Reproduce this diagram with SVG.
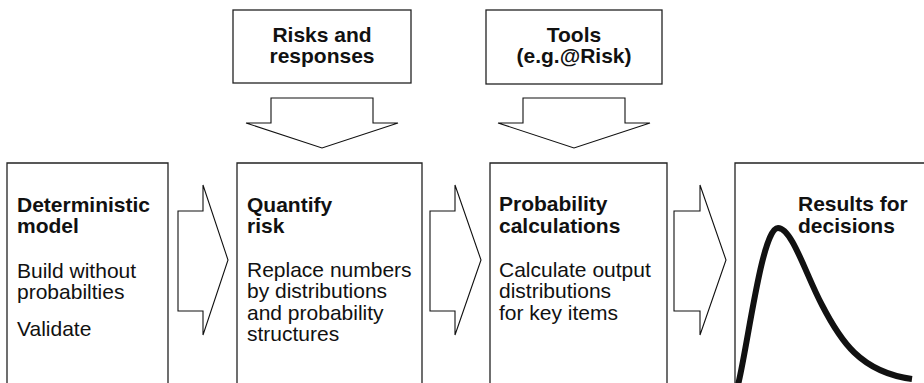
<svg xmlns="http://www.w3.org/2000/svg" width="924" height="383" viewBox="0 0 924 383">
<style>
.box{fill:#fff;stroke:#222;stroke-width:1.3}
.arr{fill:#fff;stroke:#111;stroke-width:1.1;stroke-linejoin:miter}
text{font-family:"Liberation Sans",Arial,sans-serif;font-size:21px;fill:#111}
.b{font-weight:bold}
.c{text-anchor:middle}
.curve{fill:none;stroke:#111;stroke-width:6;stroke-linecap:butt;stroke-linejoin:round}
</style>
<rect width="924" height="383" fill="#fff"/>
<g id="risks">
<rect class="box" x="233" y="10" width="178" height="73"/>
<text class="b c" x="322" y="42">Risks and</text>
<text class="b c" x="322" y="63">responses</text>
</g>
<g id="tools">
<rect class="box" x="486" y="10" width="176" height="74"/>
<text class="b c" x="574" y="42">Tools</text>
<text class="b c" x="574" y="63">(e.g.@Risk)</text>
</g>
<g id="deterministic">
<path class="box" d="M7,390 V163 H168 V390"/>
<text class="b" x="17" y="212">Deterministic</text>
<text class="b" x="17" y="233">model</text>
<text x="17" y="278">Build without</text>
<text x="17" y="299">probabilties</text>
<text x="17" y="336">Validate</text>
</g>
<g id="quantify">
<path class="box" d="M237,390 V163 H422 V390"/>
<text class="b" x="247" y="212">Quantify</text>
<text class="b" x="247" y="233">risk</text>
<text x="247" y="277">Replace numbers</text>
<text x="247" y="298">by distributions</text>
<text x="247" y="320">and probability</text>
<text x="247" y="341">structures</text>
</g>
<g id="probability">
<path class="box" d="M490,390 V163 H667 V390"/>
<text class="b" x="499" y="211">Probability</text>
<text class="b" x="499" y="233">calculations</text>
<text x="499" y="277">Calculate output</text>
<text x="499" y="298">distributions</text>
<text x="499" y="320">for key items</text>
</g>
<g id="results">
<path class="box" d="M735,390 V163 H930"/>
<text class="b" x="798" y="211">Results for</text>
<text class="b" x="798" y="233">decisions</text>
<path class="curve" d="M738,385 C748,345 762,228 778,228 C792,228 806,275 822,305 C840,340 860,372 912,379"/>
</g>
<g id="connectors">
<path class="arr" d="M271,98 H373 V123 H398 L322,148 L246,123 H271 Z"/>
<path class="arr" d="M523,98 H625 V123 H650 L574,148 L498,123 H523 Z"/>
<path class="arr" d="M178,211 H203 V185 L228,260 L203,335 V311 H178 Z"/>
<path class="arr" d="M430,211 H455 V185 L481,260 L455,335 V311 H430 Z"/>
<path class="arr" d="M674,211 H700 V185 L726,260 L700,335 V311 H674 Z"/>
</g>
</svg>
